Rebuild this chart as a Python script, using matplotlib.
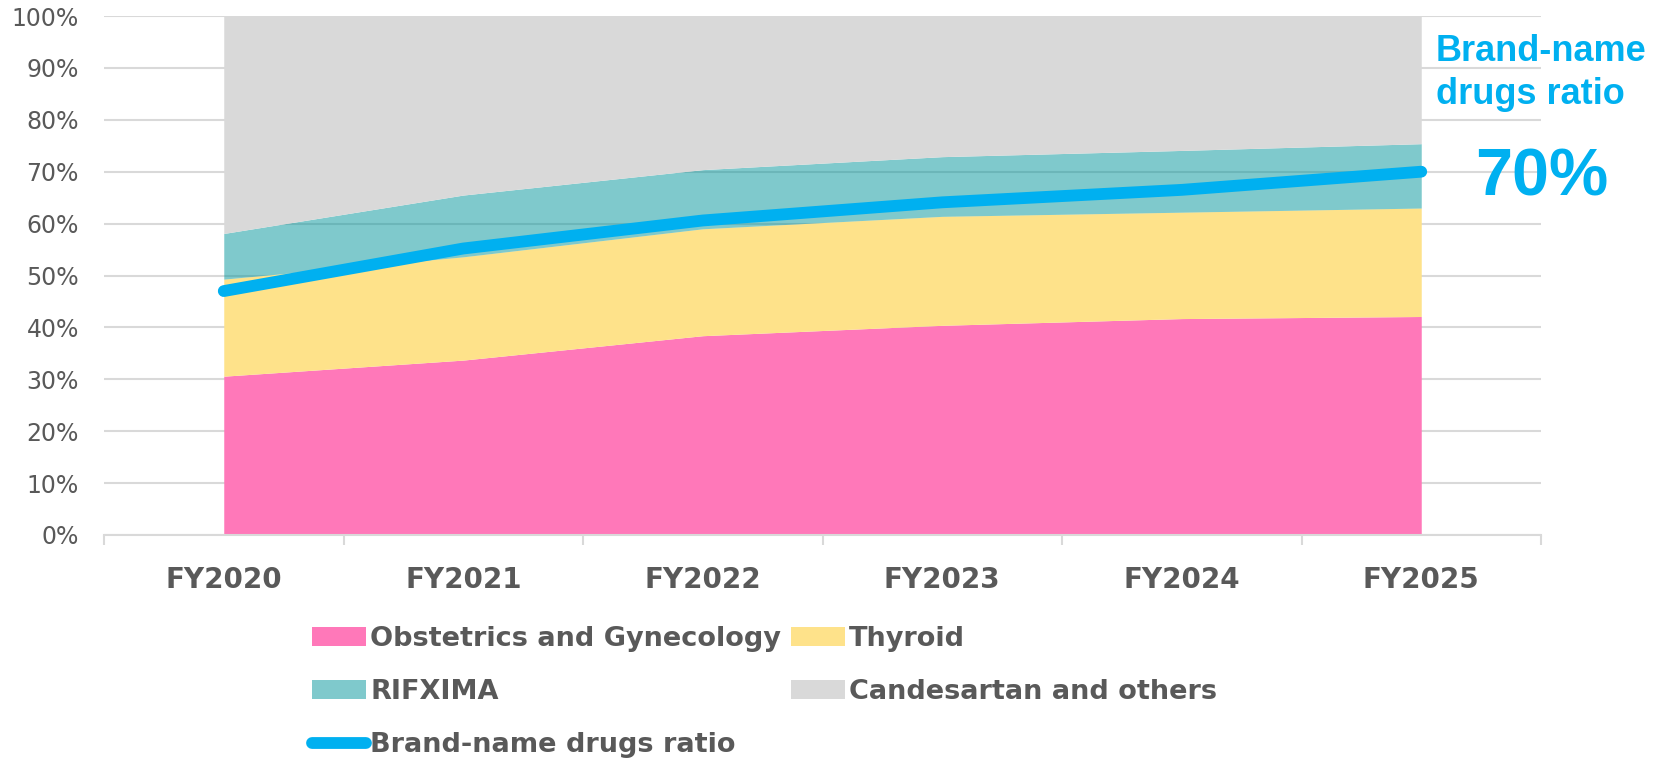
import numpy as np
import matplotlib
matplotlib.use("Agg")
import matplotlib.pyplot as plt
from matplotlib.patches import Patch
from matplotlib.lines import Line2D

# data (% of sales)
years = ["FY2020", "FY2021", "FY2022", "FY2023", "FY2024", "FY2025"]
obstetrics = [30.6, 33.7, 38.4, 40.4, 41.7, 42.1]
thyroid = [18.7, 19.9, 20.6, 21.0, 20.5, 20.9]
rifxima = [8.8, 11.9, 11.4, 11.5, 11.9, 12.4]
others = [41.9, 34.5, 29.6, 27.1, 25.9, 24.6]
brand_ratio = [47.0, 55.2, 60.6, 64.1, 66.5, 70.0]

series_names = ["Obstetrics and Gynecology", "Thyroid", "RIFXIMA", "Candesartan and others"]
series_colors = ["#FF78B9", "#FEE28A", "#00959A", "#D9D9D9"]
series_alpha = [1.0, 1.0, 0.5, 1.0]
line_name = "Brand-name drugs ratio"
line_color = "#00B0F0"
text_grey = "#595959"

fig = plt.figure(figsize=(16.71, 7.58), dpi=100)
ax = fig.add_axes([104 / 1671, 1 - 535 / 758, (1541 - 104) / 1671, (535 - 16) / 758])

x = np.arange(len(years))
base = np.zeros(len(years))
for vals, col, a in zip([obstetrics, thyroid, rifxima, others], series_colors, series_alpha):
    top = base + np.array(vals)
    ax.fill_between(x, base, top, color=col, alpha=a, linewidth=0, zorder=2)
    base = top

ax.plot(x, brand_ratio, color=line_color, lw=8.5, solid_capstyle="round", zorder=4)

ax.set_xlim(-0.5, len(years) - 0.5)
ax.set_ylim(0, 100)
ax.set_yticks(np.arange(0, 101, 10))
ax.set_yticklabels([f"{v}%" for v in range(0, 101, 10)], fontsize=17, color=text_grey)
ax.set_xticks(x)
ax.set_xticklabels(years, fontsize=20, fontweight="bold", color=text_grey)
ax.set_xticks(np.arange(-0.5, len(years), 1), minor=True)
ax.tick_params(axis="x", which="major", length=0, pad=22)
ax.tick_params(axis="x", which="minor", length=7, color="#D9D9D9", width=1.5)
ax.tick_params(axis="y", length=0, pad=18)
ax.grid(axis="y", color="#D9D9D9", lw=1.5, zorder=0)
ax.set_axisbelow(True)
for s in ["top", "right", "left"]:
    ax.spines[s].set_visible(False)
ax.spines["bottom"].set_color("#D9D9D9")
ax.spines["bottom"].set_linewidth(1.5)

# annotation at the right
fig.text(1436 / 1671, 1 - 73 / 758, "Brand-name\ndrugs ratio", ha="left", va="center",
         fontsize=26, fontweight="bold", color=line_color, family="Liberation Sans",
         linespacing=1.32)
fig.text(1542 / 1671, 1 - 178 / 758, "70%", ha="center", va="center",
         fontsize=48, fontweight="bold", color=line_color, family="Liberation Sans")

# legend, laid out row by row
h = [Patch(color=c, alpha=a, lw=0) for c, a in zip(series_colors, series_alpha)]
hl = Line2D([], [], color=line_color, lw=8.5, solid_capstyle="round")
handles = [h[0], h[2], hl, h[1], h[3]]
labels = [series_names[0], series_names[2], line_name, series_names[1], series_names[3]]
fig.legend(handles, labels, ncol=2, loc="upper left",
           bbox_to_anchor=(312 / 1671, 1 - 626 / 758), frameon=False,
           prop={"size": 19.5, "weight": "bold"}, labelcolor=text_grey,
           handlelength=2.0, handleheight=0.66, handletextpad=0.15,
           columnspacing=0.35, labelspacing=1.0, borderpad=0, borderaxespad=0)

fig.savefig("out.png", dpi=100)
